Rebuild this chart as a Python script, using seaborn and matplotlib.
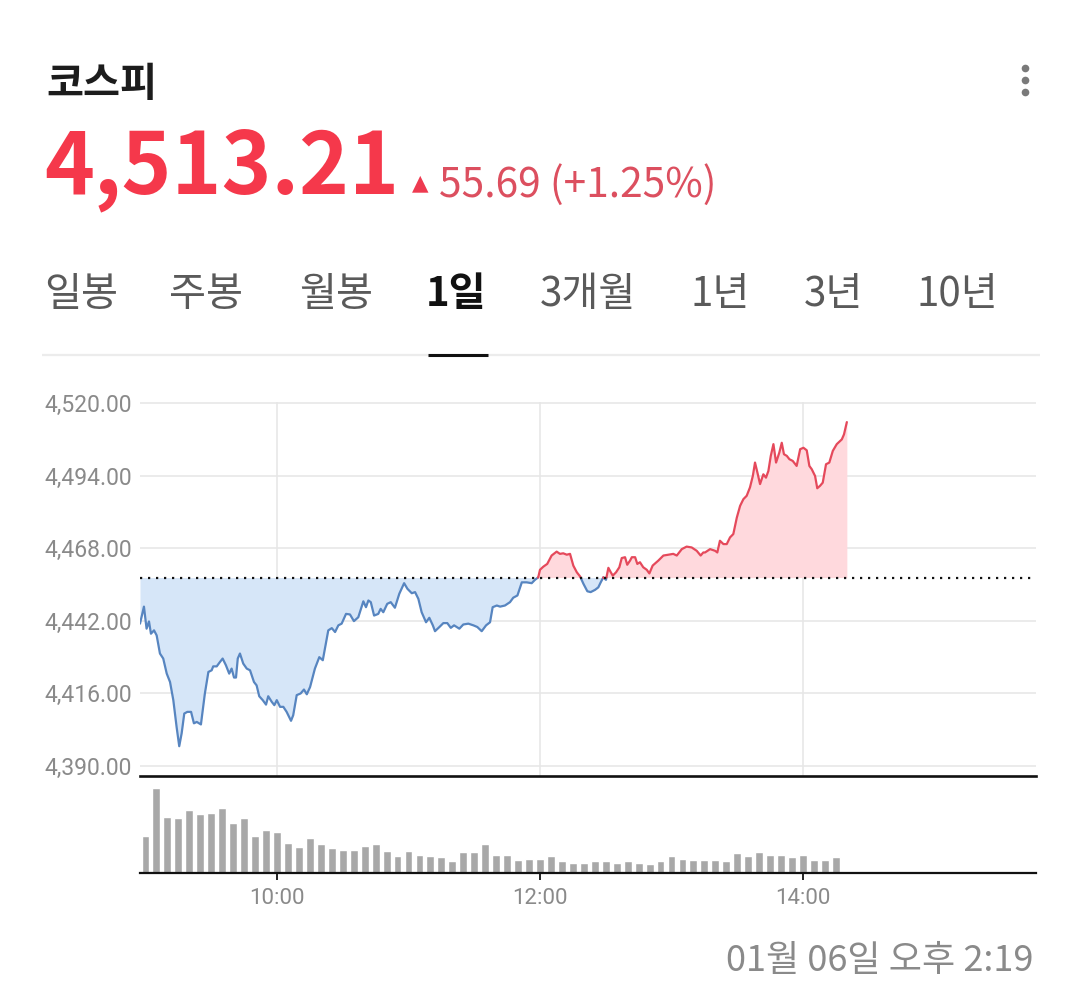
import numpy as np
import pandas as pd
import matplotlib
matplotlib.use("Agg")
import matplotlib.pyplot as plt
import seaborn as sns

# ---------------- data ----------------
title = "코스피"
last_price = "4,513.21"
change_text = "55.69 (+1.25%)"
tabs = ["일봉", "주봉", "월봉", "1일", "3개월", "1년", "3년", "10년"]
active_tab = "1일"
stamp = "01월 06일 오후 2:19"
prev_close = 4457.52

# intraday price (minutes after 09:00, index level)
minutes = [-2.5, -0.7, 0.5, 1.6, 2.5, 3.9, 5.1, 6.6, 8.1, 9.7, 11.2, 12.7, 14.2, 15.4, 16.5,
           17.7, 19.1, 20.8, 22.1, 23.4, 25.3, 27.1, 28.7, 30.2, 30.9, 32.5, 34.0, 35.2, 36.7,
           38.2, 39.3, 40.4, 41.3, 42.1, 43.1, 44.6, 46.2, 47.7, 49.5, 50.7, 51.9, 53.5, 55.0,
           56.0, 57.6, 58.8, 59.9, 61.4, 62.9, 64.4, 66.4, 67.4, 69.0, 70.8, 72.3, 73.6, 75.1,
           77.3, 79.3, 80.9, 83.4, 85.0, 86.5, 88.0, 89.5, 91.5, 93.3, 95.1, 97.1, 99.4, 100.6,
           101.7, 102.8, 104.3, 106.2, 107.3, 108.5, 110.3, 111.9, 113.8, 115.8, 118.0, 119.5,
           121.5, 123.0, 124.5, 126.0, 128.0, 129.5, 131.1, 132.1, 134.1, 135.9, 137.7, 139.3,
           140.8, 143.2, 145.0, 147.3, 149.6, 151.4, 153.4, 155.4, 157.2, 158.4, 160.3, 161.8,
           164.0, 166.3, 167.8, 169.7, 171.7, 173.9, 176.2, 177.7, 179.2, 180.0, 181.5, 183.3,
           185.3, 187.6, 189.1, 190.6, 192.2, 193.7, 195.2, 196.8, 198.3, 199.8, 201.6, 203.1,
           205.1, 206.6, 207.7, 208.9, 210.1, 211.2, 212.3, 213.2, 214.7, 216.2, 217.3, 218.8,
           219.8, 221.1, 221.9, 223.4, 224.4, 225.6, 227.1, 228.7, 229.9, 231.4, 234.0, 236.3,
           238.6, 240.8, 242.4, 244.7, 246.9, 249.2, 251.5, 253.3, 254.5, 255.3, 257.6, 259.9,
           260.9, 262.1, 263.7, 265.2, 266.7, 268.2, 269.8, 271.3, 272.8, 274.3, 275.8, 277.1,
           278.1, 279.2, 280.4, 281.9, 283.1, 284.2, 285.3, 286.5, 287.7, 289.2, 290.3, 291.3,
           292.6, 293.8, 295.3, 297.1, 298.7, 300.2, 301.7, 302.9, 304.0, 305.5, 306.5, 307.8,
           309.0, 310.5, 312.0, 313.6, 315.4, 317.7, 318.7, 320.0]
prices = [4441.0, 4447.1, 4439.2, 4441.8, 4437.4, 4438.6, 4436.8, 4430.3, 4428.5, 4423.1, 4420.1,
          4413.6, 4404.0, 4397.1, 4401.7, 4408.8, 4409.4, 4409.4, 4405.3, 4405.8, 4404.9, 4416.0,
          4423.7, 4424.3, 4425.7, 4425.7, 4427.3, 4428.5, 4426.1, 4423.1, 4424.9, 4421.7, 4421.7,
          4428.5, 4430.3, 4426.7, 4424.9, 4424.3, 4420.1, 4418.9, 4415.0, 4413.6, 4412.0, 4415.0,
          4413.0, 4411.8, 4413.6, 4411.2, 4411.2, 4409.4, 4406.2, 4408.2, 4415.4, 4416.0, 4417.4,
          4415.7, 4418.3, 4424.9, 4429.0, 4427.9, 4438.6, 4439.4, 4438.0, 4440.4, 4441.0, 4444.5,
          4444.3, 4441.9, 4443.3, 4449.0, 4446.9, 4449.3, 4448.7, 4443.9, 4444.5, 4446.3, 4445.1,
          4448.1, 4448.7, 4446.7, 4451.7, 4455.5, 4453.5, 4451.9, 4452.3, 4449.9, 4445.1, 4441.5,
          4443.1, 4440.4, 4438.3, 4439.8, 4441.2, 4441.2, 4439.5, 4440.4, 4439.2, 4440.7, 4441.0,
          4440.4, 4439.8, 4438.3, 4440.4, 4441.5, 4446.9, 4447.5, 4447.1, 4447.5, 4448.7, 4450.3,
          4451.1, 4455.8, 4455.8, 4455.5, 4456.7, 4457.6, 4460.3, 4461.4, 4462.4, 4465.4, 4466.8,
          4466.0, 4466.2, 4465.7, 4466.0, 4461.8, 4459.4, 4457.9, 4455.3, 4452.6, 4452.3, 4453.1,
          4454.0, 4455.8, 4457.6, 4456.7, 4461.0, 4459.4, 4458.2, 4459.4, 4461.2, 4464.5, 4464.8,
          4462.1, 4463.6, 4464.8, 4464.8, 4462.4, 4463.0, 4461.2, 4460.3, 4459.0, 4461.8, 4463.6,
          4465.4, 4465.7, 4466.0, 4465.4, 4467.7, 4468.6, 4468.3, 4467.1, 4465.4, 4466.5, 4466.5,
          4467.7, 4467.1, 4466.5, 4470.7, 4469.5, 4469.5, 4471.9, 4473.1, 4479.0, 4483.2, 4485.6,
          4486.8, 4489.8, 4493.9, 4498.7, 4495.1, 4491.0, 4494.5, 4493.3, 4495.7, 4501.1, 4505.3,
          4498.7, 4502.3, 4505.8, 4501.7, 4501.1, 4499.9, 4499.3, 4497.5, 4503.5, 4504.0, 4503.1,
          4497.5, 4496.3, 4493.9, 4489.5, 4490.4, 4491.5, 4498.1, 4498.7, 4502.9, 4505.3, 4507.0,
          4508.8, 4513.2]

# 5-minute volume bars from 09:00 (relative units)
volume = [110, 255, 169, 164, 188, 177, 180, 196, 149, 164, 110, 129, 122, 90, 78, 105,
          86, 74, 70, 70, 82, 86, 66, 51, 66, 54, 50, 47, 35, 62, 62, 86,
          55, 55, 39, 43, 43, 51, 35, 31, 31, 35, 35, 31, 35, 31, 27, 35,
          51, 43, 39, 39, 39, 35, 59, 51, 63, 55, 55, 47, 55, 39, 39, 47]
vol_minutes = [5 * i for i in range(len(volume))]

y_ticks = [4390, 4416, 4442, 4468, 4494, 4520]
x_ticks = [60, 180, 300]
x_labels = ["10:00", "12:00", "14:00"]

# ---------------- style ----------------
sns.set_theme(style="white")
plt.rcParams["font.family"] = ["Noto Sans CJK KR", "DejaVu Sans"]

RED_LINE = "#e5495b"
RED_FILL = "#ffd9dd"
BLUE_LINE = "#5785c0"
BLUE_FILL = "#d6e6f8"
GRID = "#e6e6e6"
TICK_GRAY = "#8a8a8a"

W, H = 1079, 981
fig = plt.figure(figsize=(W / 100, H / 100), dpi=100)


def rect(l, t, r, b):
    return [l / W, 1 - b / H, (r - l) / W, (b - t) / H]


# overlay axes in pixel coordinates for header/decoration
ov = fig.add_axes([0, 0, 1, 1], zorder=0)
ov.set_xlim(0, W)
ov.set_ylim(H, 0)
ov.axis("off")
ov.patch.set_alpha(0)

# ---------------- price panel ----------------
x_left, x_right = -2.5, 406.3
ax = fig.add_axes(rect(140, 402, 1036, 776), zorder=2)
ax.patch.set_alpha(0)
ax.set_xlim(x_left, x_right)
ax.set_ylim(4520 - (776 - 402) / 2.8, 4520.4)

# split line at prev_close crossings
t = np.asarray(minutes, float)
p = np.asarray(prices, float)
d = p - prev_close
rows = []
seg = 0
up = d[0] >= 0
cur = [(t[0], p[0])]
for i in range(1, len(t)):
    s = d[i] >= 0
    if s != up:
        frac = d[i - 1] / (d[i - 1] - d[i])
        tc = t[i - 1] + frac * (t[i] - t[i - 1])
        cur.append((tc, prev_close))
        rows += [(seg, "up" if up else "down", a, b) for a, b in cur]
        seg += 1
        cur = [(tc, prev_close)]
        up = s
    cur.append((t[i], p[i]))
rows += [(seg, "up" if up else "down", a, b) for a, b in cur]
df = pd.DataFrame(rows, columns=["seg", "dir", "t", "p"])

for (sg, dr), g in df.groupby(["seg", "dir"]):
    ax.fill_between(g["t"], g["p"], prev_close,
                    color=RED_FILL if dr == "up" else BLUE_FILL, lw=0, zorder=1)

sns.lineplot(data=df, x="t", y="p", hue="dir", units="seg", estimator=None, sort=False,
             palette={"up": RED_LINE, "down": BLUE_LINE}, legend=False, lw=1.6, ax=ax, zorder=3)

ax.axhline(prev_close, color="#111111", lw=1.6, ls=(0, (1, 2.6)), zorder=4)

ax.set_yticks(y_ticks)
ax.set_yticklabels([f"{v:,.2f}" for v in y_ticks])
ax.set_xticks(x_ticks)
ax.set_xticklabels([])
ax.grid(True, color=GRID, lw=1.1)
ax.set_axisbelow(True)
for sp in ax.spines.values():
    sp.set_visible(False)
ax.tick_params(axis="y", length=0, pad=6, labelsize=16.5, labelcolor=TICK_GRAY)
ax.tick_params(axis="x", length=0)
for lab in ax.get_yticklabels():
    lab.set_fontfamily(["Roboto", "DejaVu Sans"])
ax.set_xlabel("")
ax.set_ylabel("")

# ---------------- volume panel ----------------
vx = fig.add_axes(rect(140, 776, 1036, 873), zorder=2)
vx.patch.set_alpha(0)
vdf = pd.DataFrame({"t": vol_minutes, "v": volume})
sns.barplot(data=vdf, x="t", y="v", native_scale=True, color="#a8a8a8", errorbar=None,
            width=0.72, saturation=1, ax=vx)
vx.set_xlim(x_left, x_right)
vx.set_ylim(0, 291)
vx.set_yticks([])
vx.set_xticks(x_ticks)
vx.set_xticklabels(x_labels)
vx.set_xlabel("")
vx.set_ylabel("")
for k in ["left", "right"]:
    vx.spines[k].set_visible(False)
vx.spines["top"].set_color("#111111")
vx.spines["top"].set_linewidth(1.9)
vx.spines["bottom"].set_color("#111111")
vx.spines["bottom"].set_linewidth(1.6)
vx.tick_params(axis="x", direction="out", length=5, width=1.3, color="#111111",
               labelsize=16, labelcolor=TICK_GRAY, pad=6, bottom=True)
for lab in vx.get_xticklabels():
    lab.set_fontfamily(["Roboto", "DejaVu Sans"])

# ---------------- header ----------------
ov.text(46, 96, title, fontsize=29, fontweight="bold", color="#1c1c1c", va="baseline", ha="left")
ov.text(44, 193, last_price, fontsize=61, fontweight="bold", color="#f5384b",
        va="baseline", ha="left")
ov.text(412, 189, "▲", fontsize=15.5, color="#ee3a50", va="baseline", ha="left",
        family=["DejaVu Sans"])
ov.text(439, 197, change_text, fontsize=29.3, color="#dc4f5f", va="baseline", ha="left")

for k, yy in enumerate([68, 80, 92]):
    ov.plot([1025], [yy], marker="o", ms=5.5, color="#7a7a7a", mec="none")

tab_x = [44, 169, 299, 426, 540, 691, 804, 917]
for lbl, tx in zip(tabs, tab_x):
    active = lbl == active_tab
    ov.text(tx, 306, lbl, fontsize=29, color="#111111" if active else "#5a5a5a",
            fontweight="bold" if active else "normal", va="baseline", ha="left")

ov.plot([42, 1040], [355, 355], color="#ececec", lw=1.6, solid_capstyle="butt")
ov.plot([428, 488], [354.5, 354.5], color="#111111", lw=2.2, solid_capstyle="butt")

ov.text(1034, 971, stamp, fontsize=26, color="#8a8a8a", va="baseline", ha="right")

fig.savefig("out.png", dpi=100)
